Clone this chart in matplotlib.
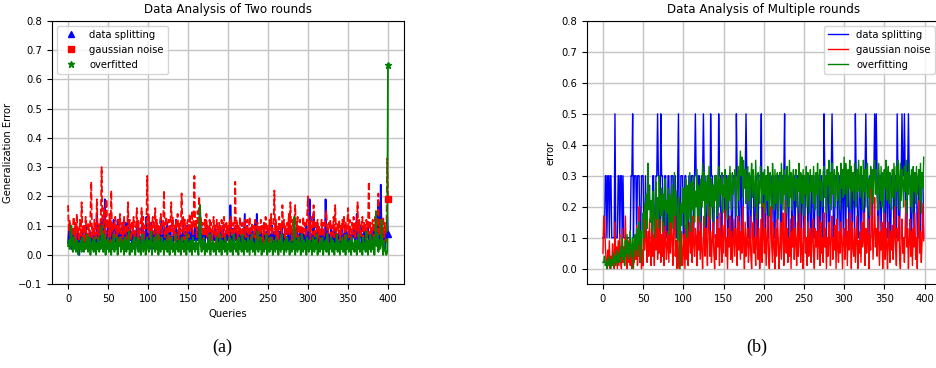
import numpy as np
import matplotlib.pyplot as plt

# ---- two rounds (values in hundredths) ----
split_two = [
    4, 9, 3, 6, 2, 8, 5, 3, 7, 4, 6, 2, 9, 5, 0, 7, 3, 5, 8, 2,
    6, 4, 10, 3, 5, 7, 2, 8, 4, 6, 3, 9, 5, 2, 7, 4, 14, 6, 3, 8,
    5, 12, 3, 7, 12, 6, 19, 4, 8, 2, 11, 5, 11, 3, 6, 8, 2, 12, 4, 10,
    3, 6, 12, 5, 12, 4, 8, 2, 11, 10, 5, 3, 11, 6, 4, 12, 2, 9, 5, 7,
    4, 10, 6, 3, 8, 5, 11, 2, 7, 9, 4, 6, 3, 10, 5, 8, 2, 6, 13, 4,
    7, 3, 11, 5, 11, 6, 2, 8, 4, 10, 5, 7, 3, 9, 6, 2, 12, 5, 10, 4,
    6, 9, 3, 7, 11, 5, 2, 8, 10, 4, 6, 3, 9, 5, 7, 12, 4, 8, 2, 6,
    9, 5, 3, 7, 11, 4, 8, 2, 6, 10, 5, 3, 8, 6, 4, 9, 2, 7, 5, 10,
    3, 8, 5, 6, 10, 17, 4, 7, 2, 9, 5, 3, 8, 6, 10, 4, 7, 2, 9, 5,
    6, 3, 8, 5, 10, 2, 7, 4, 9, 6, 3, 8, 5, 2, 10, 4, 7, 3, 6, 9,
    5, 8, 2, 17, 6, 4, 9, 3, 7, 5, 10, 2, 6, 8, 3, 9, 5, 4, 7, 2,
    8, 14, 3, 6, 10, 4, 7, 2, 9, 5, 3, 8, 6, 4, 11, 2, 14, 5, 8, 3,
    6, 9, 4, 7, 2, 10, 5, 3, 8, 6, 4, 9, 2, 7, 5, 10, 3, 6, 8, 4,
    7, 3, 9, 5, 2, 8, 6, 10, 4, 7, 3, 9, 5, 6, 2, 8, 4, 10, 6, 3,
    8, 5, 2, 9, 6, 4, 10, 3, 7, 5, 8, 2, 6, 9, 4, 7, 3, 5, 10, 6,
    4, 8, 19, 5, 7, 3, 9, 14, 6, 2, 8, 5, 10, 4, 7, 3, 6, 9, 2, 5,
    8, 3, 19, 6, 4, 9, 2, 7, 5, 10, 3, 8, 6, 4, 9, 2, 7, 5, 3, 8,
    6, 4, 9, 2, 7, 5, 10, 3, 8, 6, 4, 9, 2, 7, 5, 3, 8, 6, 10, 4,
    7, 14, 5, 3, 8, 6, 10, 2, 7, 4, 9, 5, 3, 8, 6, 10, 4, 7, 2, 9,
    5, 8, 3, 7, 10, 4, 6, 9, 18, 5, 3, 24, 7, 4, 9, 6, 2, 8, 5, 13,
    7]

noise_two = [
    17, 8, 12, 5, 10, 3, 9, 13, 6, 11, 4, 14, 7, 9, 3, 12, 6, 18, 8, 5,
    10, 4, 13, 7, 2, 11, 9, 5, 14, 25, 6, 10, 3, 12, 8, 5, 19, 9, 4, 11,
    7, 13, 30, 8, 5, 16, 10, 3, 19, 9, 12, 6, 14, 4, 22, 8, 11, 5, 9, 13,
    6, 10, 3, 12, 8, 14, 5, 9, 11, 4, 13, 7, 10, 2, 9, 18, 6, 12, 8, 5,
    11, 7, 13, 4, 9, 10, 16, 6, 12, 3, 8, 11, 16, 7, 13, 5, 10, 9, 12, 27,
    8, 14, 6, 11, 4, 10, 13, 7, 9, 16, 5, 12, 8, 10, 3, 11, 14, 7, 9, 12,
    22, 6, 10, 13, 5, 9, 12, 4, 11, 18, 8, 13, 6, 10, 3, 12, 9, 14, 5, 11,
    7, 10, 21, 8, 13, 5, 12, 9, 4, 11, 12, 6, 14, 8, 10, 15, 7, 13, 27, 9,
    12, 6, 15, 10, 20, 5, 13, 8, 11, 3, 9, 12, 7, 14, 6, 10, 4, 12, 8, 11,
    5, 9, 13, 7, 10, 4, 12, 8, 6, 11, 3, 10, 12, 6, 9, 13, 5, 8, 11, 7,
    10, 4, 12, 8, 13, 6, 9, 11, 5, 25, 8, 12, 4, 10, 7, 13, 6, 9, 11, 3,
    8, 12, 6, 10, 12, 5, 9, 13, 7, 4, 11, 8, 10, 6, 12, 3, 9, 11, 7, 10,
    5, 12, 8, 10, 4, 11, 7, 13, 9, 6, 10, 3, 12, 8, 14, 5, 9, 11, 22, 7,
    12, 6, 10, 4, 13, 8, 11, 5, 17, 9, 12, 6, 10, 3, 11, 8, 14, 7, 18, 10,
    5, 12, 8, 11, 17, 6, 10, 13, 4, 9, 12, 7, 10, 5, 13, 8, 11, 6, 9, 14,
    20, 8, 12, 5, 10, 13, 7, 17, 9, 4, 11, 8, 12, 6, 10, 3, 9, 12, 7, 11,
    6, 10, 13, 15, 8, 4, 11, 9, 12, 5, 10, 7, 13, 6, 17, 9, 4, 11, 8, 12,
    5, 10, 7, 12, 9, 13, 4, 11, 8, 10, 16, 6, 12, 9, 5, 11, 7, 13, 10, 6,
    11, 8, 18, 5, 12, 9, 6, 10, 13, 4, 11, 8, 9, 12, 6, 10, 25, 7, 11, 5,
    9, 12, 6, 10, 13, 4, 11, 8, 21, 7, 12, 5, 10, 8, 13, 6, 11, 9, 4, 33,
    19]

overfit_two = [
    3, 5, 2, 4, 10, 3, 1, 6, 2, 4, 1, 5, 3, 0, 4, 2, 5, 1, 6, 3,
    1, 4, 2, 5, 7, 1, 3, 6, 0, 4, 2, 5, 1, 6, 3, 0, 4, 2, 6, 1,
    4, 2, 10, 5, 1, 7, 3, 0, 5, 2, 6, 1, 4, 3, 0, 5, 2, 7, 1, 4,
    2, 6, 0, 4, 3, 6, 1, 5, 2, 4, 0, 6, 3, 1, 5, 2, 8, 0, 4, 3,
    1, 5, 2, 6, 0, 4, 3, 6, 1, 5, 2, 0, 4, 7, 1, 3, 5, 0, 2, 6,
    3, 1, 5, 2, 8, 0, 4, 3, 6, 1, 4, 2, 7, 0, 5, 3, 1, 6, 2, 4,
    0, 5, 2, 4, 1, 7, 3, 0, 5, 2, 6, 1, 4, 3, 0, 7, 2, 4, 1, 5,
    3, 0, 6, 2, 4, 1, 5, 3, 0, 7, 2, 4, 1, 5, 3, 0, 6, 2, 4, 1,
    5, 2, 4, 0, 7, 17, 3, 1, 5, 2, 6, 0, 4, 3, 1, 5, 2, 7, 0, 4,
    2, 5, 1, 4, 3, 0, 6, 2, 4, 1, 7, 3, 0, 5, 2, 4, 1, 6, 3, 0,
    4, 2, 6, 1, 5, 3, 0, 7, 2, 4, 1, 5, 3, 0, 6, 2, 4, 1, 7, 3,
    0, 5, 2, 4, 1, 6, 3, 0, 5, 2, 7, 1, 4, 3, 0, 5, 2, 8, 1, 4,
    2, 6, 0, 4, 3, 1, 5, 2, 7, 0, 4, 3, 1, 6, 2, 4, 0, 5, 3, 1,
    6, 2, 4, 0, 5, 3, 1, 7, 2, 4, 0, 5, 3, 1, 6, 2, 4, 0, 5, 3,
    1, 4, 2, 13, 0, 5, 3, 1, 6, 2, 4, 0, 7, 3, 1, 5, 2, 4, 0, 6,
    3, 1, 5, 2, 4, 0, 6, 3, 1, 5, 2, 7, 0, 4, 3, 1, 5, 2, 6, 0,
    4, 2, 5, 1, 7, 3, 0, 4, 2, 6, 1, 5, 3, 0, 4, 2, 7, 1, 5, 3,
    0, 4, 2, 6, 1, 5, 3, 0, 7, 2, 4, 1, 5, 3, 0, 6, 2, 4, 1, 5,
    3, 0, 5, 2, 7, 1, 4, 3, 0, 6, 2, 4, 1, 8, 3, 0, 5, 2, 7, 1,
    4, 2, 6, 0, 5, 15, 3, 7, 1, 5, 2, 4, 12, 3, 0, 5, 2, 1, 0, 1,
    65]

# ---- multiple rounds ----
# data splitting in tenths
split_multi = [
    1, 1, 1, 3, 3, 1, 3, 3, 1, 3, 3, 1, 1, 1, 1, 5, 1, 1, 1, 3,
    3, 1, 3, 3, 1, 3, 1, 1, 1, 1, 1, 1, 1, 1, 1, 3, 3, 5, 1, 3,
    3, 3, 1, 3, 3, 3, 1, 1, 3, 3, 3, 1, 1, 3, 1, 1, 1, 1, 1, 1,
    1, 1, 3, 3, 1, 1, 3, 3, 5, 3, 3, 1, 5, 3, 3, 1, 1, 3, 3, 1,
    1, 3, 3, 1, 1, 3, 3, 3, 1, 3, 3, 1, 1, 3, 5, 1, 1, 3, 3, 3,
    1, 1, 3, 3, 1, 1, 1, 3, 3, 1, 3, 3, 3, 1, 3, 5, 3, 3, 1, 3,
    3, 1, 1, 3, 3, 5, 3, 3, 1, 1, 3, 3, 3, 1, 5, 3, 3, 1, 1, 3,
    3, 3, 1, 1, 5, 3, 3, 1, 1, 3, 3, 3, 1, 3, 3, 1, 1, 3, 3, 3,
    1, 1, 3, 3, 3, 1, 5, 3, 3, 1, 1, 3, 3, 1, 1, 3, 3, 3, 5, 3,
    1, 1, 3, 3, 1, 3, 3, 3, 1, 1, 3, 3, 1, 1, 3, 3, 3, 5, 1, 1,
    3, 3, 1, 3, 3, 1, 1, 3, 3, 3, 1, 3, 3, 1, 1, 3, 3, 1, 3, 3,
    3, 1, 1, 3, 3, 3, 5, 1, 1, 3, 3, 1, 3, 3, 3, 1, 1, 3, 3, 1,
    3, 3, 3, 1, 1, 3, 3, 1, 3, 3, 1, 1, 3, 3, 3, 1, 3, 3, 1, 1,
    3, 3, 1, 1, 3, 3, 3, 1, 3, 3, 1, 3, 3, 1, 1, 5, 3, 3, 1, 3,
    3, 1, 1, 3, 3, 5, 3, 1, 1, 3, 3, 3, 1, 3, 3, 1, 1, 3, 3, 1,
    3, 3, 1, 3, 3, 3, 1, 1, 3, 3, 1, 3, 3, 1, 5, 3, 3, 1, 1, 3,
    3, 1, 3, 3, 1, 1, 3, 5, 3, 3, 1, 1, 3, 3, 3, 1, 3, 3, 5, 3,
    5, 3, 1, 1, 3, 3, 1, 3, 3, 3, 1, 1, 3, 3, 1, 3, 3, 1, 1, 3,
    3, 3, 1, 3, 3, 1, 5, 3, 1, 1, 3, 3, 5, 3, 3, 5, 3, 1, 1, 3,
    5, 3, 3, 1, 1, 3, 3, 1, 3, 3, 3, 1, 1, 3, 3, 1, 3, 3, 3, 1]

# gaussian noise / overfitting in hundredths
noise_multi = [
    5, 17, 16, 8, 2, 0, 6, 1, 9, 0, 4, 1, 8, 3, 0, 15, 2, 7, 0, 9,
    1, 11, 3, 0, 13, 2, 7, 1, 17, 4, 0, 9, 2, 10, 1, 6, 0, 3, 8, 2,
    10, 3, 14, 1, 8, 20, 2, 11, 0, 6, 1, 15, 6, 18, 9, 2, 12, 4, 16, 7,
    1, 13, 4, 11, 1, 17, 6, 22, 3, 13, 5, 16, 2, 11, 4, 15, 1, 9, 14, 3,
    7, 12, 2, 15, 5, 17, 10, 1, 13, 26, 4, 9, 0, 15, 3, 0, 8, 1, 12, 1,
    5, 11, 0, 14, 3, 16, 1, 9, 15, 5, 12, 2, 17, 8, 4, 13, 10, 1, 18, 6,
    12, 3, 15, 6, 0, 10, 17, 4, 13, 8, 1, 16, 20, 4, 12, 2, 9, 15, 5, 0,
    11, 3, 16, 7, 13, 1, 18, 8, 2, 14, 5, 12, 19, 4, 10, 0, 13, 7, 17, 3,
    12, 2, 9, 16, 4, 13, 10, 1, 17, 6, 15, 3, 12, 5, 20, 9, 0, 15, 4, 9,
    13, 2, 7, 17, 4, 0, 12, 15, 5, 10, 1, 18, 8, 3, 13, 0, 7, 16, 2, 10,
    21, 5, 13, 1, 10, 17, 4, 0, 12, 20, 7, 2, 15, 8, 0, 13, 4, 16, 10, 0,
    7, 15, 3, 12, 18, 1, 9, 22, 5, 13, 2, 10, 4, 16, 0, 12, 7, 17, 3, 13,
    9, 1, 15, 4, 10, 20, 2, 13, 7, 0, 12, 17, 5, 10, 1, 15, 4, 9, 13, 2,
    10, 16, 4, 0, 13, 7, 12, 3, 17, 8, 1, 15, 5, 10, 2, 18, 7, 13, 0, 10,
    4, 15, 9, 1, 12, 17, 3, 10, 6, 14, 0, 16, 7, 2, 12, 5, 15, 9, 0, 10,
    13, 3, 9, 16, 1, 12, 6, 18, 10, 0, 15, 7, 4, 13, 2, 10, 17, 0, 9, 5,
    12, 2, 15, 7, 10, 18, 1, 13, 5, 9, 16, 0, 11, 6, 26, 14, 3, 12, 23, 7,
    13, 4, 17, 9, 1, 12, 6, 15, 0, 10, 18, 3, 13, 7, 0, 15, 9, 2, 12, 6,
    14, 3, 10, 20, 7, 1, 13, 9, 17, 4, 0, 12, 16, 5, 10, 2, 14, 22, 7, 13,
    0, 9, 16, 4, 12, 1, 13, 7, 18, 3, 10, 0, 14, 22, 5, 12, 2, 9, 21, 9]

overfit_multi = [
    2, 2, 4, 1, 2, 0, 3, 1, 4, 2, 0, 3, 1, 5, 2, 4, 1, 6, 3, 2,
    5, 2, 7, 4, 10, 3, 6, 1, 9, 4, 11, 5, 8, 3, 12, 7, 4, 10, 0, 8,
    11, 6, 13, 9, 4, 15, 8, 12, 2, 14, 18, 10, 21, 16, 24, 13, 34, 19, 27, 15,
    22, 12, 25, 18, 10, 20, 28, 16, 23, 13, 30, 21, 17, 26, 12, 24, 19, 29, 14, 22,
    18, 26, 11, 24, 20, 15, 27, 13, 22, 31, 17, 25, 19, 9, 23, 16, 0, 21, 14, 26,
    18, 26, 13, 29, 21, 10, 27, 16, 31, 22, 12, 28, 19, 30, 15, 25, 20, 32, 17, 27,
    25, 15, 29, 20, 34, 22, 31, 14, 28, 21, 30, 17, 33, 24, 16, 29, 20, 27, 15, 30,
    22, 30, 17, 28, 33, 20, 29, 24, 31, 18, 27, 23, 32, 19, 29, 16, 30, 22, 33, 26,
    19, 31, 24, 27, 32, 28, 17, 29, 33, 22, 30, 38, 30, 36, 23, 35, 26, 32, 21, 28,
    33, 22, 31, 19, 29, 34, 23, 32, 26, 20, 35, 25, 16, 31, 27, 21, 33, 28, 20, 31,
    24, 32, 18, 30, 22, 33, 27, 17, 31, 25, 20, 34, 28, 19, 32, 21, 29, 31, 16, 27,
    31, 21, 34, 26, 19, 32, 24, 30, 18, 33, 27, 20, 35, 23, 31, 19, 29, 32, 22, 28,
    32, 20, 29, 25, 34, 18, 31, 27, 21, 32, 17, 30, 24, 33, 20, 31, 26, 18, 32, 25,
    30, 21, 33, 26, 19, 31, 24, 34, 17, 30, 32, 22, 28, 20, 31, 33, 23, 30, 18, 32,
    27, 35, 21, 31, 19, 34, 24, 30, 32, 20, 28, 33, 22, 31, 25, 19, 34, 26, 32, 23,
    36, 24, 34, 29, 20, 32, 26, 35, 19, 33, 25, 31, 22, 34, 28, 20, 32, 25, 35, 29,
    23, 33, 27, 19, 35, 25, 32, 20, 31, 34, 23, 29, 17, 33, 26, 32, 21, 31, 35, 24,
    32, 24, 19, 34, 28, 22, 33, 20, 31, 18, 32, 26, 35, 22, 29, 33, 21, 31, 26, 19,
    32, 23, 34, 27, 20, 33, 25, 35, 29, 19, 34, 22, 32, 28, 20, 33, 25, 35, 18, 31,
    24, 34, 27, 20, 32, 18, 33, 25, 31, 21, 33, 24, 29, 32, 22, 34, 18, 31, 26, 36]

split_two = np.array(split_two) / 100
noise_two = np.array(noise_two) / 100
overfit_two = np.array(overfit_two) / 100
split_multi = np.array(split_multi) / 10
noise_multi = np.array(noise_multi) / 100
overfit_multi = np.array(overfit_multi) / 100

plt.rcParams['font.size'] = 7.2
fig = plt.figure(figsize=(9.36, 3.68), dpi=100)

# (a) two rounds
ax1 = fig.add_axes([0.0556, 0.228, 0.376, 0.715])
ax1.plot(split_two, 'b-', lw=1.3)
ax1.plot(noise_two, 'r--', lw=1.3)
ax1.plot(overfit_two, 'g-', lw=1.3)
last = len(split_two) - 1
ax1.plot(last, split_two[-1], 'b^', ms=5, label='data splitting')
ax1.plot(last, noise_two[-1], 'rs', ms=5, label='gaussian noise')
ax1.plot(last, overfit_two[-1], 'g*', ms=5, label='overfitted')
ax1.set_ylim(-0.1, 0.8)
ax1.set_title('Data Analysis of Two rounds', fontsize=8.6)
ax1.set_xlabel('Queries')
ax1.set_ylabel('Generalization Error')
ax1.grid(True, color='#c4c4c4', lw=1.0)
ax1.legend(loc='upper left')

# (b) multiple rounds
ax2 = fig.add_axes([0.627, 0.228, 0.377, 0.715])
ax2.plot(split_multi, 'b-', lw=1.0, label='data splitting')
ax2.plot(noise_multi, 'r-', lw=1.0, label='gaussian noise')
ax2.plot(overfit_multi, 'g-', lw=1.0, label='overfitting')
ax2.set_ylim(-0.05, 0.8)
ax2.set_xticks([0, 50, 100, 150, 200, 250, 300, 350, 400])
ax2.set_title('Data Analysis of Multiple rounds', fontsize=8.6)
ax2.set_ylabel('error')
ax2.grid(True, color='#c4c4c4', lw=1.0)
ax2.legend(loc='upper right')

fig.text(0.237, 0.045, '(a)', fontsize=13, family='Liberation Serif', ha='center')
fig.text(0.808, 0.045, '(b)', fontsize=13, family='Liberation Serif', ha='center')

fig.savefig('out.png', dpi=100)
